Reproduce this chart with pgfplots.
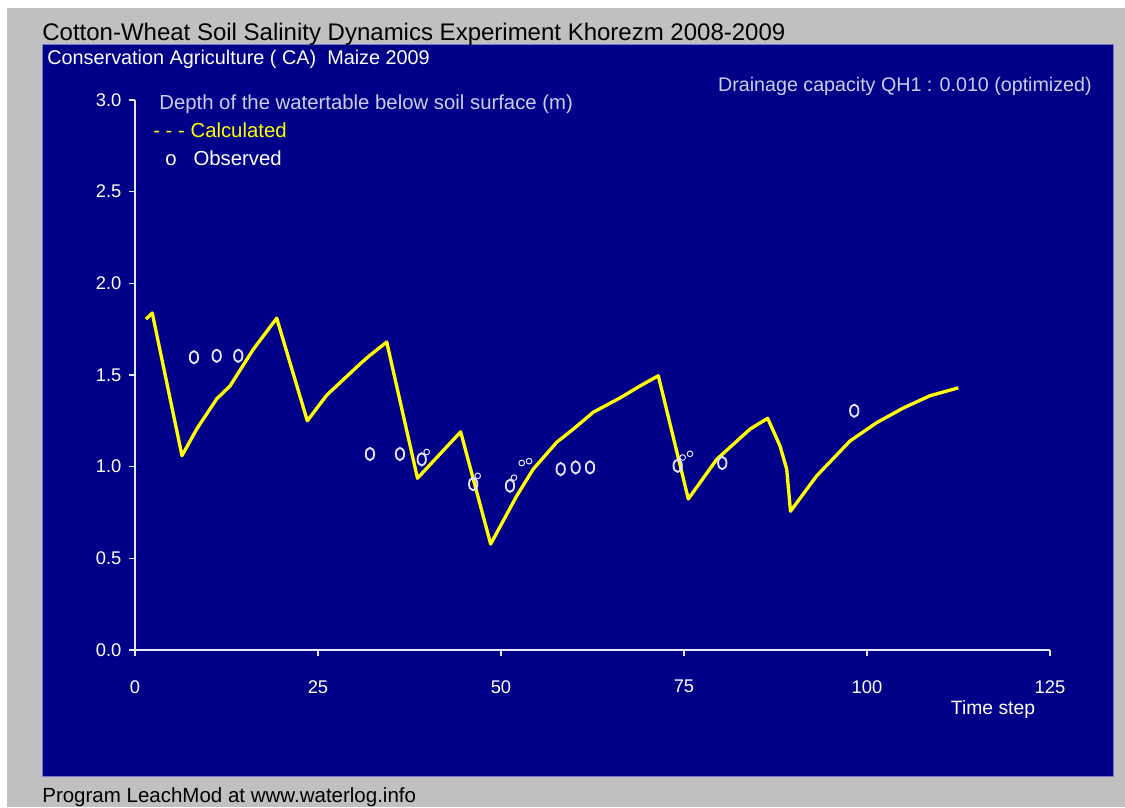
\documentclass[border=0pt]{standalone}
\usepackage{fontspec}
\setmainfont{Liberation Sans}
\usepackage{pgfplots}
\pgfplotsset{compat=1.18}
\definecolor{panel}{RGB}{0,0,136}
\definecolor{bggray}{RGB}{192,192,192}
\definecolor{axcol}{RGB}{230,230,245}
\definecolor{lab}{RGB}{205,205,235}
\definecolor{obs}{RGB}{228,228,255}
\definecolor{calc}{RGB}{255,255,0}
\definecolor{pborder}{RGB}{120,120,200}
\begin{document}
\begin{tikzpicture}
\begin{scope}[x=0.6pt,y=-0.6pt]
\useasboundingbox (0,0) rectangle (1125,807);
\fill[white] (0,0) rectangle (1125,807);
\fill[bggray] (7,8) rectangle (1125,807);
\fill[panel] (42,44) rectangle (1113,776);
\draw[pborder, line width=0.6pt] (42,44) rectangle (1113,776);
\node[anchor=base west, inner sep=0, font=\fontsize{14.4}{16}\selectfont, text=black] at (42,40) {Cotton-Wheat Soil Salinity Dynamics Experiment Khorezm 2008-2009};
\node[anchor=base west, inner sep=0, font=\fontsize{11.9}{14}\selectfont, text=white] at (47,64) {Conservation Agriculture ( CA)\ \ Maize 2009};
\node[anchor=base east, inner sep=0, font=\fontsize{11.8}{14}\selectfont, text=lab] at (1092,91) {Drainage capacity QH1 : 0.010 (optimized)};
\node[anchor=base west, inner sep=0, font=\fontsize{12.2}{14}\selectfont, text=lab] at (159,109) {Depth of the watertable below soil surface (m)};
\node[anchor=base west, inner sep=0, font=\fontsize{12.2}{14}\selectfont, text=calc] at (153,137) {- - -\ Calculated};
\node[anchor=base west, inner sep=0, font=\fontsize{12.2}{14}\selectfont, text=white] at (165,165) {o\ \ \ Observed};
\node[anchor=base, inner sep=0, font=\fontsize{11.6}{14}\selectfont, text=white] at (993,714) {Time step};
\node[anchor=base west, inner sep=0, font=\fontsize{12.3}{14}\selectfont, text=black] at (42,802) {Program LeachMod at www.waterlog.info};
\end{scope}
\begin{axis}[
  at={(81pt,-390pt)}, anchor=south west,
  width=549pt, height=330pt, scale only axis,
  xmin=0, xmax=125, ymin=0, ymax=3,
  axis x line=bottom, axis y line=left,
  axis line style={axcol, -, line width=0.8pt},
  xtick={0,25,50,75,100,125}, ytick={0,0.5,1,1.5,2,2.5,3},
  tick align=outside, major tick length=3.6pt,
  tick style={axcol, line width=0.8pt},
  /pgf/number format/assume math mode=true,
  ticklabel style={font=\fontsize{11}{13}\selectfont, text=white},
  xticklabel style={yshift=-11pt},
  yticklabel style={xshift=-1pt, /pgf/number format/.cd, fixed, fixed zerofill, precision=1},
  clip=false,
]
\addplot[calc, line width=2pt, line join=round] coordinates {
(1.50,1.805)(2.36,1.838)(6.42,1.06)(8.43,1.205)(11.16,1.37)(12.98,1.44)(16.16,1.64)(19.36,1.81)
(23.54,1.25)(26.19,1.39)(30.74,1.56)(31.87,1.60)(34.39,1.68)(38.59,0.937)(44.49,1.19)(48.59,0.578)
(52.14,0.84)(54.41,0.987)(57.61,1.133)(59.88,1.205)(62.61,1.297)(66.26,1.375)(68.99,1.44)(71.49,1.496)
(75.59,0.824)(79.47,1.04)(84.02,1.205)(86.43,1.264)(88.11,1.114)(89.03,0.987)(89.55,0.757)(93.13,0.95)
(97.68,1.14)(101.32,1.24)(104.96,1.32)(108.61,1.387)(112.47,1.43)
};
\addplot[only marks, mark=o, mark size=3.7pt, mark options={obs, line width=1.1pt, xscale=0.68}] coordinates {
(8.06,1.597)(11.16,1.605)(14.11,1.605)(32.10,1.069)(36.2,1.069)(39.17,1.04)(46.2,0.905)(51.23,0.896)
(58.16,0.987)(60.2,0.996)(62.16,0.996)(74.14,1.005)(80.23,1.02)(98.26,1.305)
};
\addplot[only marks, mark=o, mark size=1.7pt, mark options={obs, line width=0.6pt}] coordinates {
(39.85,1.08)(46.82,0.95)(51.78,0.94)(52.83,1.02)(53.83,1.03)(74.82,1.05)(75.82,1.07)
};
\end{axis}
\end{tikzpicture}
\end{document}
